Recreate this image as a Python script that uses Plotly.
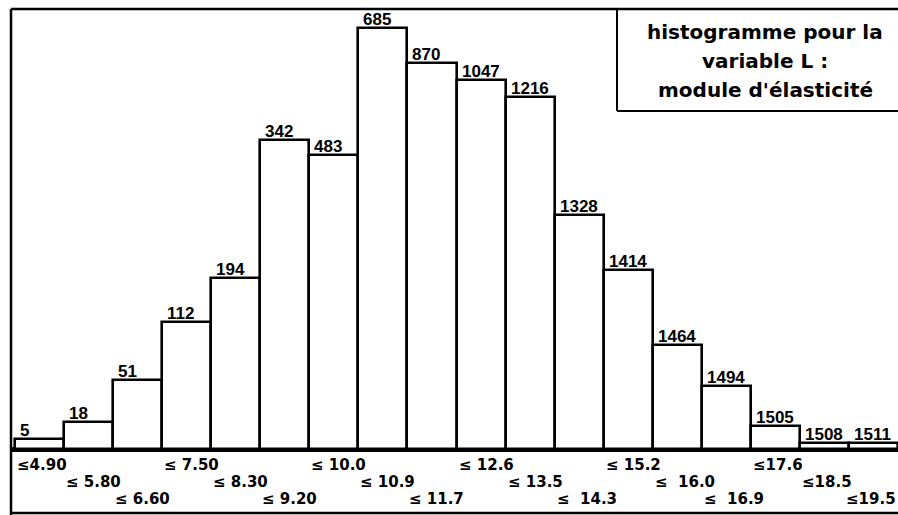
import plotly.graph_objects as go

# Data
class_labels = ["≤4.90", "≤ 5.80", "≤ 6.60", "≤ 7.50", "≤ 8.30", "≤ 9.20",
                "≤ 10.0", "≤ 10.9", "≤ 11.7", "≤ 12.6", "≤ 13.5", "≤  14.3",
                "≤ 15.2", "≤  16.0", "≤  16.9", "≤17.6", "≤18.5", "≤19.5"]
frequencies = [5, 13, 33, 61, 82, 148, 141, 202, 185, 177, 169, 112, 86, 50, 30, 11, 3, 3]
cumulative = [5, 18, 51, 112, 194, 342, 483, 685, 870, 1047, 1216, 1328, 1414, 1464,
              1494, 1505, 1508, 1511]
title_lines = ["histogramme pour la", "variable L :", "module d'élasticité"]

W, H = 898, 515
def px(x):
    return x / W
def py(y):
    return 1 - y / H

positions = list(range(len(frequencies)))

fig = go.Figure()
fig.add_trace(go.Bar(
    x=positions, y=frequencies, width=1.0,
    marker=dict(color="white", line=dict(color="black", width=2.6)),
    hoverinfo="skip", showlegend=False,
))

annotations = []
# cumulative count labels above each bar
for i, (f, c) in enumerate(zip(frequencies, cumulative)):
    annotations.append(dict(
        x=i - 0.5, y=f, xref="x", yref="y", text="<b>" + str(c) + "</b>", showarrow=False,
        xanchor="left", yanchor="bottom", xshift=3, yshift=-3,
        font=dict(family="Liberation Sans", size=17, color="black"),
    ))
# staggered class labels in three rows
row_y = [465, 482, 499]
n = len(class_labels)
for i, lab in enumerate(class_labels):
    last = i == n - 1
    annotations.append(dict(
        x=(i + 0.5) if last else (i - 0.5), y=py(row_y[i % 3]), xref="x", yref="paper",
        text="<b>" + lab + "</b>",
        showarrow=False, xanchor="right" if last else "left", yanchor="middle",
        xshift=0,
        font=dict(family="DejaVu Sans", size=15, color="black"),
    ))
# title box text
for j, (line, yy) in enumerate(zip(title_lines, [32, 61, 90])):
    annotations.append(dict(
        x=px(765), y=py(yy), xref="paper", yref="paper", text="<b>" + line + "</b>",
        showarrow=False, xanchor="center", yanchor="middle",
        font=dict(family="DejaVu Sans", size=20, color="black"),
    ))

shapes = [
    # outer frame
    dict(type="line", xref="paper", yref="paper", x0=px(11), x1=px(11), y0=py(9), y1=py(515),
         line=dict(color="black", width=2.5)),
    dict(type="line", xref="paper", yref="paper", x0=px(11), x1=1.0, y0=py(9), y1=py(9),
         line=dict(color="black", width=2.5)),
    dict(type="line", xref="paper", yref="paper", x0=px(11), x1=1.0, y0=py(513), y1=py(513),
         line=dict(color="black", width=2.5)),
    # title box
    dict(type="line", xref="paper", yref="paper", x0=px(617), x1=px(617), y0=py(9), y1=py(111),
         line=dict(color="black", width=2)),
    dict(type="line", xref="paper", yref="paper", x0=px(617), x1=1.0, y0=py(111), y1=py(111),
         line=dict(color="black", width=2)),
]

base_px, scale = 449, 2.085
fig.update_layout(
    width=W, height=H,
    margin=dict(l=0, r=0, t=0, b=0),
    paper_bgcolor="white", plot_bgcolor="white",
    bargap=0,
    xaxis=dict(domain=[px(12), 1], range=[-0.5 - 3 / 49.06, 17.5],
               showgrid=False, zeroline=False, showticklabels=False, ticks=""),
    yaxis=dict(domain=[0, 1], range=[-(H - base_px) / scale, base_px / scale],
               showgrid=False, zeroline=True, zerolinecolor="black", zerolinewidth=4.5,
               showticklabels=False, ticks=""),
    annotations=annotations,
    shapes=shapes,
)

fig.write_html(
    "out.html",
    config={"displayModeBar": False},
    post_script="document.body.style.margin='0';document.body.style.overflow='hidden';",
)
